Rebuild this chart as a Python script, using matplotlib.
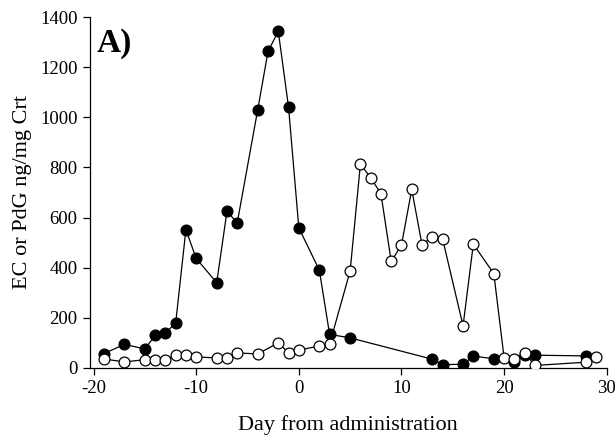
import matplotlib
matplotlib.use("Agg")
import matplotlib.pyplot as plt

plt.rcParams['font.family'] = ['Liberation Serif', 'DejaVu Serif']
plt.rcParams['axes.unicode_minus'] = False

# EC (filled circles)
ec_day = [-19, -17, -15, -14, -13, -12, -11, -10, -8, -7, -6, -4, -3, -2, -1, 0,
          2, 3, 5, 13, 14, 16, 17, 19, 21, 22, 23, 28]
ec_val = [57, 94, 76, 130, 140, 178, 552, 437, 340, 625, 579, 1031, 1263, 1343, 1040, 559,
          390, 134, 120, 35, 13, 15, 47, 37, 22, 50, 51, 48]

# PdG (open circles)
pdg_day = [-19, -17, -15, -14, -13, -12, -11, -10, -8, -7, -6, -4, -2, -1, 0,
           2, 3, 5, 6, 7, 8, 9, 10, 11, 12, 13, 14, 16, 17, 19, 20, 21, 22, 23, 28, 29]
pdg_val = [36, 24, 33, 31, 30, 53, 52, 44, 40, 41, 60, 56, 100, 61, 71,
           88, 95, 387, 813, 759, 695, 425, 490, 712, 492, 523, 516, 168, 494, 376, 40, 35, 61, 10, 23, 45]

fig = plt.figure(figsize=(6.16, 4.37), dpi=100)
ax = fig.add_axes([0.146, 0.158, 0.839, 0.803])

ax.plot(ec_day, ec_val, '-o', color='black', lw=0.9, ms=7.8,
        mfc='black', mec='black', mew=0.9, zorder=2)
ax.plot(pdg_day, pdg_val, '-o', color='black', lw=0.9, ms=7.8,
        mfc='white', mec='black', mew=0.9, zorder=3)

ax.set_xlim(-20.35, 30)
ax.set_ylim(0, 1400)
ax.set_xticks([-20, -10, 0, 10, 20, 30])
ax.set_yticks(range(0, 1401, 200))
ax.spines['top'].set_visible(False)
ax.spines['right'].set_visible(False)
ax.spines['left'].set_linewidth(0.9)
ax.spines['bottom'].set_linewidth(0.9)
ax.tick_params(direction='out', length=5, width=0.9, labelsize=13.5, pad=4)

ax.set_xlabel('Day from administration', fontsize=16, labelpad=13)
ax.set_ylabel('EC or PdG ng/mg Crt', fontsize=16, labelpad=6)
ax.text(0.012, 0.97, 'A)', transform=ax.transAxes, fontsize=24, fontweight='bold',
        va='top', ha='left')

fig.savefig('out.png', dpi=100)
